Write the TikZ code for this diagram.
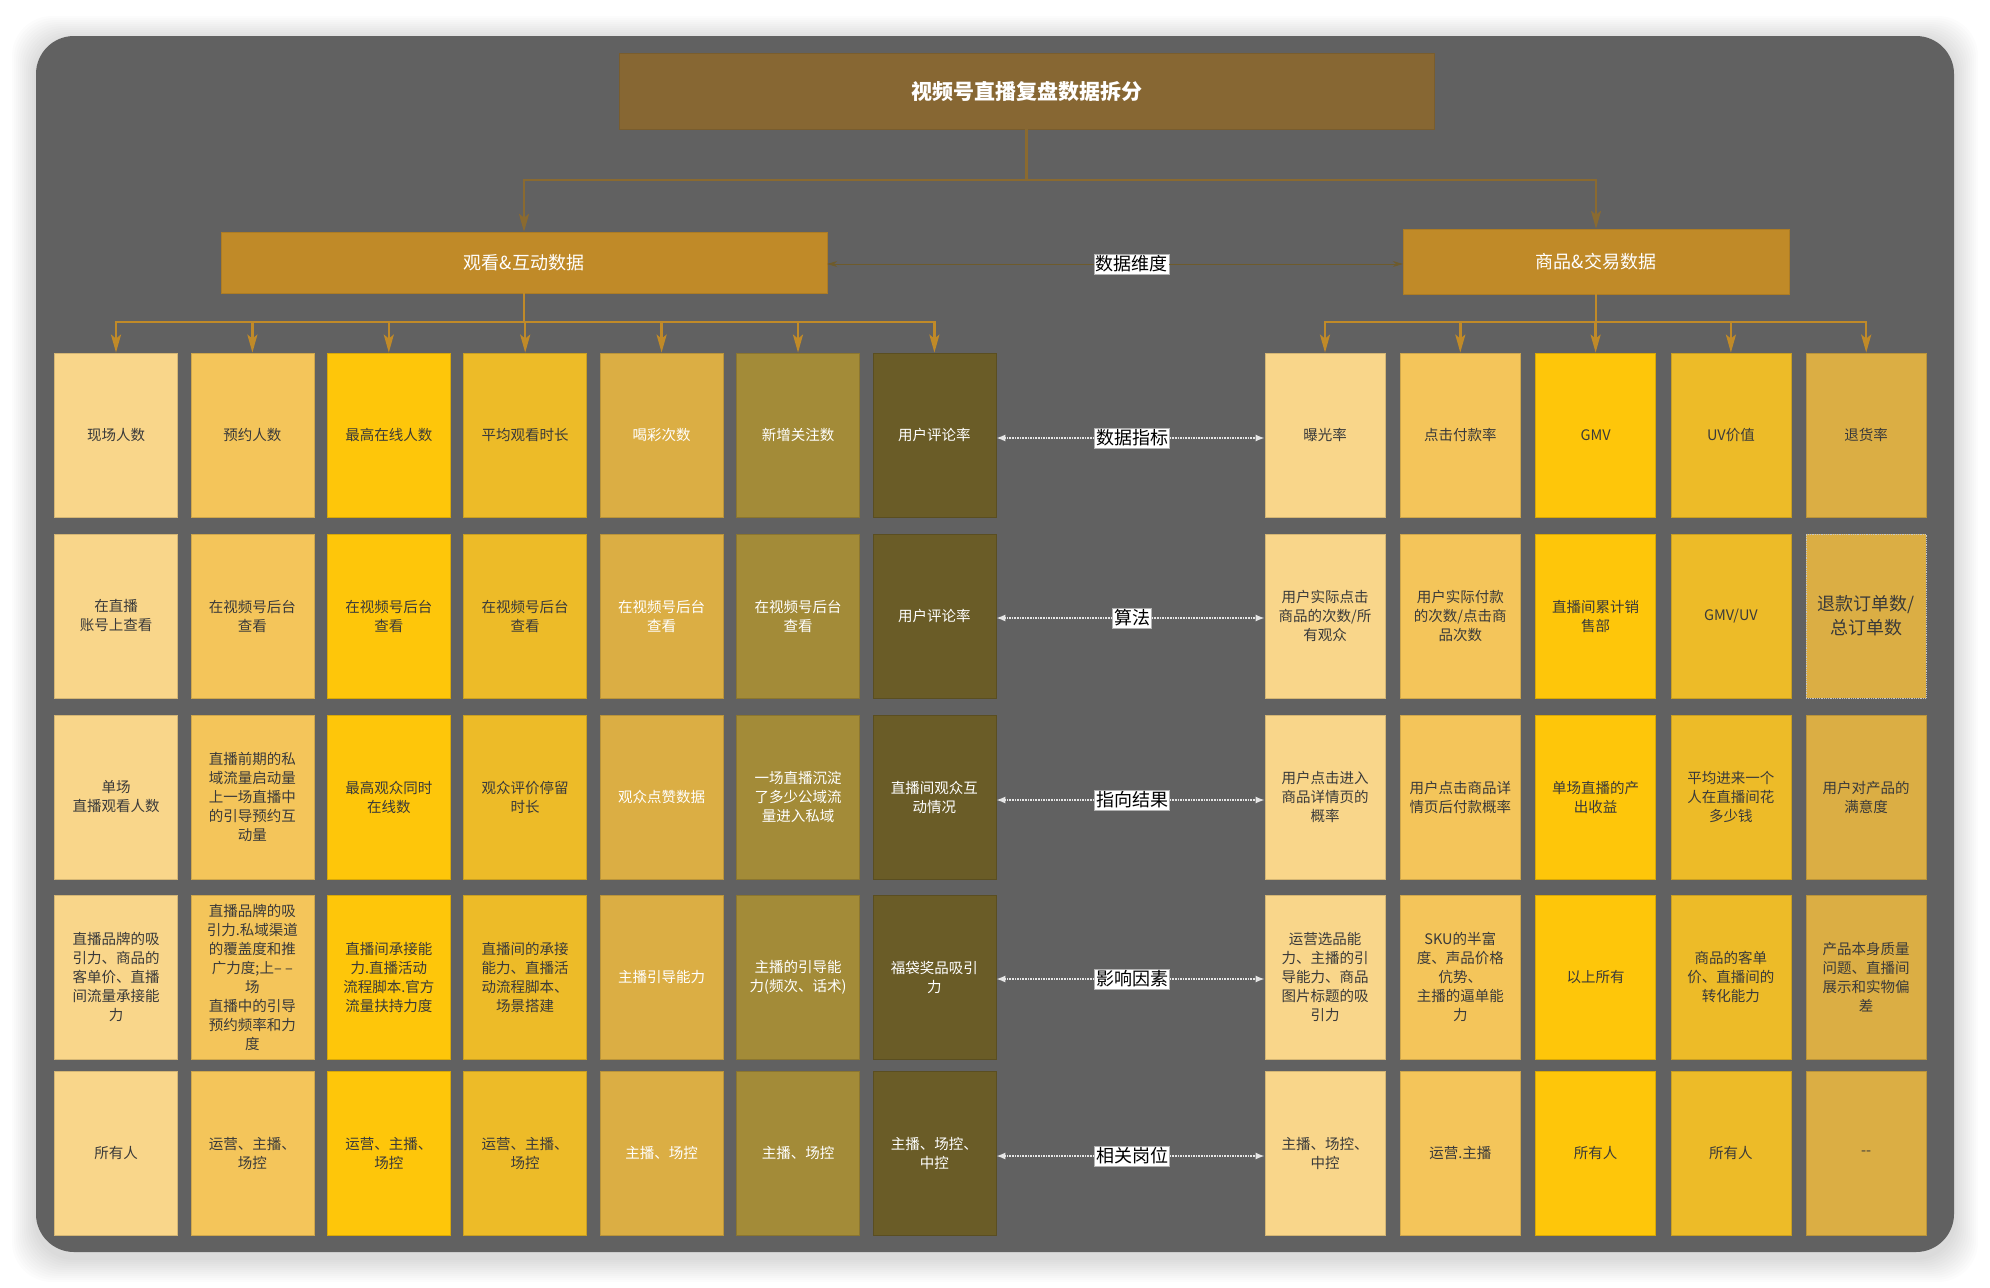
\documentclass[tikz,border=0pt]{standalone}
\usepackage{fontspec}
\setmainfont{Noto Sans CJK SC}
\usetikzlibrary{arrows.meta}
\usetikzlibrary{positioning}
\definecolor{panel}{HTML}{616161}
\definecolor{rootbrown}{HTML}{876733}
\definecolor{catgold}{HTML}{C08A28}
\definecolor{trunkline}{HTML}{8A6A30}
\definecolor{dimline}{HTML}{6E5B2C}
\definecolor{darktext}{HTML}{3A3A3A}
\definecolor{lc1}{HTML}{F9D68A}
\definecolor{lc2}{HTML}{F4C55A}
\definecolor{lc3}{HTML}{FEC60A}
\definecolor{lc4}{HTML}{EDBB28}
\definecolor{lc5}{HTML}{DBAE44}
\definecolor{lc6}{HTML}{A38B38}
\definecolor{lc7}{HTML}{6A5C27}
\colorlet{lt1}{darktext}
\colorlet{lt2}{darktext}
\colorlet{lt3}{darktext}
\colorlet{lt4}{darktext}
\colorlet{lt5}{white}
\colorlet{lt6}{white}
\colorlet{lt7}{white}
\tikzset{goldtip/.style = {-{Stealth[length=18pt, width=10pt, inset=4pt]}}}
\tikzset{trunk/.style = {draw=trunkline, line width=2.5, goldtip}}
\tikzset{branch/.style = {draw=catgold, line width=2.5, goldtip}}
\tikzset{cell/.style = {rectangle, inner sep=0, minimum width=123, minimum height=164,
                        align=center, font=\fontsize{14.5}{19}\selectfont, line width=0.8}}
\tikzset{lcell/.style = {cell, fill=lc#1, draw=lc#1!85!black, text=lt#1}}
\tikzset{rcell/.style = {cell, minimum width=120, fill=lc#1, draw=lc#1!85!black, text=darktext}}
\tikzset{midlabel/.style = {fill=white, draw=gray!60, line width=0.6, text=black,
                            inner sep=1.5pt, font=\fontsize{18}{20}\selectfont}}
\tikzset{rowarrow/.style = {draw=gray!20, line width=1.6, densely dotted,
                            -{Latex[length=9pt, width=7pt]}}}

\begin{document}
\begin{tikzpicture}[x=1pt, y=-1pt]
  \useasboundingbox (0,0) rectangle (1990,1288);
  \fill[white] (0,0) rectangle (1990,1288);
  % soft shadow and panel
  \foreach \s in {2,4,...,24}
    \fill[black, opacity=0.012, rounded corners=40] (36-\s,40-\s) rectangle (1954+\s,1258+\s);
  \fill[panel, rounded corners=38] (36,36) rectangle (1954,1252);

  % top and category boxes
  \node[fill=rootbrown, draw=rootbrown!90!black, minimum width=815, minimum height=76,
        text=white, font=\fontsize{21}{24}\selectfont\bfseries] (root) at (1026.5,91) {视频号直播复盘数据拆分};
  \node[fill=catgold, draw=catgold!90!black, minimum width=606, minimum height=61,
        text=white, font=\fontsize{18}{20}\selectfont] (watch) at (524,262.5) {观看\&互动数据};
  \node[fill=catgold, draw=catgold!90!black, minimum width=386, minimum height=65,
        text=white, font=\fontsize{18}{20}\selectfont] (goods) at (1596,261.5) {商品\&交易数据};
  \draw[trunk] (root.south) -- ++(0,51) -| (watch.north);
  \draw[trunk] (root.south) -- ++(0,51) -| (goods.north);
  \node[midlabel] (dim) at (1131.5,264) {数据维度};
  \draw[dimline, line width=1, -{Stealth[length=10pt, width=6pt]}] (dim) -- (dim -| watch.east);
  \draw[dimline, line width=1, -{Stealth[length=10pt, width=6pt]}] (dim) -- (dim -| goods.west);

  % watch & interaction columns
  \foreach \t [count=\i] in {现场人数, 预约人数, 最高在线人数, 平均观看时长, 喝彩次数, 新增关注数, 用户评论率}
    \node[lcell=\i] (L-1-\i) at ({116+136.4*(\i-1)},435) {\t};
  \foreach \t [count=\i] in {{在直播\\账号上查看}, {在视频号后台\\查看}, {在视频号后台\\查看}, {在视频号后台\\查看},
                             {在视频号后台\\查看}, {在视频号后台\\查看}, 用户评论率}
    \node[lcell=\i] (L-2-\i) at ({116+136.4*(\i-1)},616) {\t};
  \foreach \t [count=\i] in {{单场\\直播观看人数}, {直播前期的私\\域流量启动量\\上一场直播中\\的引导预约互\\动量},
                             {最高观众同时\\在线数}, {观众评价停留\\时长}, 观众点赞数据,
                             {一场直播沉淀\\了多少公域流\\量进入私域}, {直播间观众互\\动情况}}
    \node[lcell=\i] (L-3-\i) at ({116+136.4*(\i-1)},797) {\t};
  \foreach \t [count=\i] in {{直播品牌的吸\\引力、商品的\\客单价、直播\\间流量承接能\\力},
                             {直播品牌的吸\\引力.私域渠道\\的覆盖度和推\\广力度;上– –\\场\\直播中的引导\\预约频率和力\\度},
                             {直播间承接能\\力.直播活动\\流程脚本.官方\\流量扶持力度},
                             {直播间的承接\\能力、直播活\\动流程脚本、\\场景搭建}, 主播引导能力,
                             {主播的引导能\\力(频次、话术)}, {福袋奖品吸引\\力}}
    \node[lcell=\i] (L-4-\i) at ({116+136.4*(\i-1)},977) {\t};
  \foreach \t [count=\i] in {所有人, {运营、主播、\\场控}, {运营、主播、\\场控}, {运营、主播、\\场控},
                             主播、场控, 主播、场控, {主播、场控、\\中控}}
    \node[lcell=\i] (L-5-\i) at ({116+136.4*(\i-1)},1153) {\t};

  % goods & trade columns
  \foreach \t [count=\i] in {曝光率, 点击付款率, GMV, UV价值, 退货率}
    \node[rcell=\i] (R-1-\i) at ({1325+135.3*(\i-1)},435) {\t};
  \foreach \t [count=\i] in {{用户实际点击\\商品的次数/所\\有观众}, {用户实际付款\\的次数/点击商\\品次数},
                             {直播间累计销\\售部}, GMV/UV}
    \node[rcell=\i] (R-2-\i) at ({1325+135.3*(\i-1)},616) {\t};
  \node[rcell=5, draw=gray!45, densely dotted, font=\fontsize{18}{24}\selectfont]
    (R-2-5) at (1866.2,616) {退款订单数/\\总订单数};
  \foreach \t [count=\i] in {{用户点击进入\\商品详情页的\\概率}, {用户点击商品详\\情页后付款概率},
                             {单场直播的产\\出收益}, {平均进来一个\\人在直播间花\\多少钱}, {用户对产品的\\满意度}}
    \node[rcell=\i] (R-3-\i) at ({1325+135.3*(\i-1)},797) {\t};
  \foreach \t [count=\i] in {{运营选品能\\力、主播的引\\导能力、商品\\图片标题的吸\\引力},
                             {SKU的半富\\度、声品价格\\伉势、\\主播的逼单能\\力}, 以上所有,
                             {商品的客单\\价、直播间的\\转化能力}, {产品本身质量\\问题、直播间\\展示和实物偏\\差}}
    \node[rcell=\i] (R-4-\i) at ({1325+135.3*(\i-1)},977) {\t};
  \foreach \t [count=\i] in {{主播、场控、\\中控}, 运营.主播, 所有人, 所有人, {-{}-}}
    \node[rcell=\i] (R-5-\i) at ({1325+135.3*(\i-1)},1153) {\t};

  % fan-out arrows
  \foreach \i in {1,...,7}
    \draw[branch] (watch.south) -- ++(0,29) -| (L-1-\i.north);
  \foreach \i in {1,...,5}
    \draw[branch] (goods.south) -- ++(0,28) -| (R-1-\i.north);

  % row labels
  \foreach \r/\y/\t in {1/438/数据指标, 2/618/算法, 3/800/指向结果, 4/979/影响因素, 5/1156/相关岗位}{
    \node[midlabel] (M-\r) at (1132,\y) {\t};
    \draw[rowarrow] (M-\r) -- (M-\r -| L-\r-7.east);
    \draw[rowarrow] (M-\r) -- (M-\r -| R-\r-1.west);
  }
\end{tikzpicture}
\end{document}
